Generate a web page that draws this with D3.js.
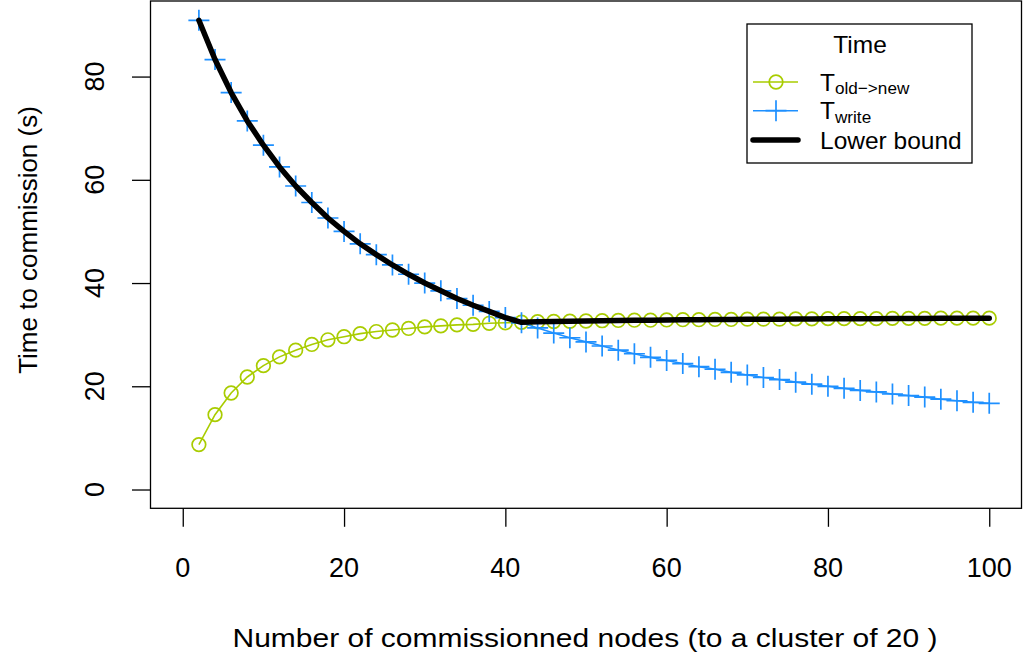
<!DOCTYPE html>
<html>
<head>
<meta charset="utf-8">
<script src="https://cdnjs.cloudflare.com/ajax/libs/d3/7.8.5/d3.min.js"></script>
<style>body{margin:0;background:#fff}</style>
</head>
<body>
<div id="viz"></div>
<script>
//Settings
let width = 1025
let height = 659
let font = "'Liberation Sans', Arial, sans-serif"
let fontSize = 26
let tickFont = 27
let legendFont = 24.5
let green = "#a9cc00"
let blue = "#1e90ff"

//Data
let nodes = [2,4,6,8,10,12,14,16,18,20,22,24,26,28,30,32,34,36,38,40,
             42,44,46,48,50,52,54,56,58,60,62,64,66,68,70,72,74,76,78,80,
             82,84,86,88,90,92,94,96,98,100]

let tOldNew = [8.7,14.5,18.7,21.8,24.0,25.7,27.0,28.1,29.0,29.6,30.2,30.6,30.9,31.2,31.5,31.7,31.9,32.0,32.2,32.3,
               32.4,32.5,32.55,32.6,32.65,32.7,32.75,32.8,32.8,32.85,32.9,32.9,32.95,32.95,33.0,33.0,33.0,33.05,33.05,33.1,
               33.1,33.1,33.1,33.15,33.15,33.15,33.2,33.2,33.2,33.2]

let tWrite = [90.9,83.3,76.9,71.4,66.7,62.5,58.8,55.6,52.6,50.0,47.6,45.5,43.5,41.7,40.0,38.5,37.0,35.7,34.5,33.3,
              32.3,31.3,30.3,29.4,28.6,27.8,27.0,26.3,25.6,25.0,24.4,23.8,23.3,22.7,22.2,21.7,21.3,20.8,20.4,20.0,
              19.6,19.2,18.9,18.5,18.2,17.9,17.5,17.2,16.9,16.7]

let lowerBound = [90.9,83.3,76.9,71.4,66.7,62.5,58.8,55.6,52.6,50.0,47.6,45.5,43.5,41.7,40.0,38.5,37.0,35.7,34.5,33.3,
                  32.4,32.5,32.55,32.6,32.65,32.7,32.75,32.8,32.8,32.85,32.9,32.9,32.95,32.95,33.0,33.0,33.0,33.05,33.05,33.1,
                  33.1,33.1,33.1,33.15,33.15,33.15,33.2,33.2,33.2,33.2]

let xTicks = [0,20,40,60,80,100]
let yTicks = [0,20,40,60,80]

let legendLabels = [["T","old\u2212>new"],["T","write"],["Lower bound",""]]

//Scales (R style 4% padding around the limits)
let x = d3.scaleLinear().domain([-4,104]).range([150.5,1021.5])
let y = d3.scaleLinear().domain([-3.64,94.64]).range([508.3,1])

let svg = d3.select('#viz').append('svg').attr("width",width).attr("height",height)
            .style("font-family",font)

//Axes
let xAxis = svg.append("g").attr("transform",`translate(0,${y.range()[0]})`)
               .call(d3.axisBottom(x).tickValues(xTicks).tickSize(18.5).tickFormat(""))
xAxis.select(".domain").remove()
xAxis.selectAll("line").attr("stroke","#000").attr("stroke-width",1.3)

let yAxis = svg.append("g").attr("transform",`translate(${x.range()[0]},0)`)
               .call(d3.axisLeft(y).tickValues(yTicks).tickSize(18.5).tickFormat(""))
yAxis.select(".domain").remove()
yAxis.selectAll("line").attr("stroke","#000").attr("stroke-width",1.3)

svg.selectAll(".xlab").data(xTicks).enter().append("text").attr("class","xlab")
   .text(d=>d).attr("x",d=>x(d)).attr("y",577).attr("text-anchor","middle")
   .attr("font-size",tickFont).attr("fill","#000")

svg.selectAll(".ylab").data(yTicks).enter().append("text").attr("class","ylab")
   .text(d=>d).attr("text-anchor","middle").attr("font-size",tickFont).attr("fill","#000")
   .attr("transform",d=>`translate(103.5,${y(d)}) rotate(-90)`)

//Axis titles
svg.append("text").text("Number of commissionned nodes (to a cluster of 20 )")
   .attr("x",232.5).attr("y",647).attr("font-size",fontSize).attr("fill","#000")
   .attr("textLength",705).attr("lengthAdjust","spacingAndGlyphs")

svg.append("text").text("Time to commission (s)")
   .attr("text-anchor","middle").attr("font-size",fontSize).attr("fill","#000")
   .attr("transform","translate(37,240) rotate(-90)")

//Series
let line = d3.line().x((d,i)=>x(nodes[i])).y(d=>y(d))

svg.append("path").datum(tOldNew).attr("d",line).attr("fill","none")
   .attr("stroke",green).attr("stroke-width",1.6)
svg.selectAll(".circ").data(tOldNew).enter().append("circle").attr("class","circ")
   .attr("cx",(d,i)=>x(nodes[i])).attr("cy",d=>y(d)).attr("r",6.8)
   .attr("fill","none").attr("stroke",green).attr("stroke-width",1.7)

svg.append("path").datum(tWrite).attr("d",line).attr("fill","none")
   .attr("stroke",blue).attr("stroke-width",1.6)
svg.selectAll(".plus").data(tWrite).enter().append("path").attr("class","plus")
   .attr("d",(d,i)=>`M${x(nodes[i])-10.5},${y(d)}h21M${x(nodes[i])},${y(d)-10.5}v21`)
   .attr("stroke",blue).attr("stroke-width",1.7)

svg.append("path").datum(lowerBound).attr("d",line).attr("fill","none")
   .attr("stroke","#000").attr("stroke-width",5.5).attr("stroke-linecap","round").attr("stroke-linejoin","round")

//Plot box
svg.append("rect").attr("x",x.range()[0]).attr("y",y.range()[1])
   .attr("width",x.range()[1]-x.range()[0]).attr("height",y.range()[0]-y.range()[1])
   .attr("fill","none").attr("stroke","#000").attr("stroke-width",1.3)

//Legend
let legend = svg.append("g")
legend.append("rect").attr("x",747).attr("y",24).attr("width",225).attr("height",139)
      .attr("fill","#fff").attr("stroke","#000").attr("stroke-width",1.3)
legend.append("text").text("Time").attr("x",860).attr("y",53).attr("text-anchor","middle")
      .attr("font-size",legendFont).attr("fill","#000")

let rowY = [82,110.7,140]
let rowColor = [green,blue,"#000"]
let rowWidth = [1.6,1.6,5.5]
for(let k=0;k<3;k++){
    legend.append("line").attr("x1",753).attr("x2",798).attr("y1",rowY[k]).attr("y2",rowY[k])
          .attr("stroke",rowColor[k]).attr("stroke-width",rowWidth[k]).attr("stroke-linecap",k==2?"round":"butt")
    let t = legend.append("text").attr("x",820).attr("y",rowY[k]+8.5).attr("font-size",legendFont).attr("fill","#000")
    t.append("tspan").text(legendLabels[k][0])
    if(legendLabels[k][1]!=""){
        t.append("tspan").text(legendLabels[k][1]).attr("font-size",legendFont*0.7).attr("dy",3.5)
    }
}
legend.append("circle").attr("cx",776).attr("cy",rowY[0]).attr("r",6.8)
      .attr("fill","none").attr("stroke",green).attr("stroke-width",1.7)
legend.append("path").attr("d",`M765.5,${rowY[1]}h21M776,${rowY[1]-10.5}v21`)
      .attr("stroke",blue).attr("stroke-width",1.7)
</script>
</body>
</html>
